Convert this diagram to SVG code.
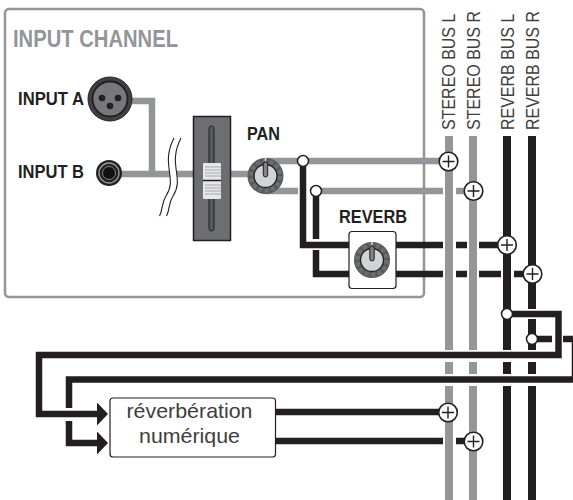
<svg xmlns="http://www.w3.org/2000/svg" width="573" height="500" viewBox="0 0 573 500">
<style>
.bold{font-family:"Liberation Sans",Arial,sans-serif;font-weight:700;fill:#231f20}
.bus{font-family:"Liberation Sans",Arial,sans-serif;font-size:16px;fill:#3f3d3e}
.num{font-family:"Liberation Sans",Arial,sans-serif;font-size:21px;fill:#3f3d3e;text-anchor:middle}
.g{fill:none;stroke:#939598;stroke-width:6.5}
.k{fill:none;stroke:#231f20;stroke-width:6.5}
.bg{fill:none;stroke:#939598;stroke-width:8}
.bk{fill:none;stroke:#231f20;stroke-width:8}
.sum{fill:#fff;stroke:#231f20;stroke-width:1.6}
.plus{fill:none;stroke:#231f20;stroke-width:1.4}
.jn{fill:#fff;stroke:#231f20;stroke-width:1.5}
</style>
<defs>
<g id="knob">
<circle r="18" fill="#58595b"/>
<circle r="14.500" fill="none" stroke="#6d6e71" stroke-width="4.500" stroke-dasharray="4 2.500"/>
<circle r="11.500" fill="#d1d3d4" stroke="#231f20" stroke-width="1.300"/>
<rect x="-2.200" y="-14" width="4.400" height="15" rx="2.200" fill="#808285" stroke="#231f20" stroke-width="1"/>
<rect x="-0.800" y="-18" width="1.600" height="3" fill="#d1d3d4"/>
</g>
<g id="sum">
<circle r="9.300" class="sum"/>
<path d="M-6 0H6M0-6V6" class="plus"/>
</g>
<marker id="arrow" markerUnits="userSpaceOnUse" markerWidth="12" markerHeight="23" refX="0" refY="11.500" orient="auto">
<path d="M0 0L11 11.500L0 23Z" fill="#231f20"/>
</marker>
</defs>
<g id="input-channel">
<rect x="5" y="9" width="419" height="288" rx="4" fill="#fff" stroke="#939598" stroke-width="2.500"/>
<text x="13" y="47" class="bold" font-size="23" style="fill:#939598" textLength="165" lengthAdjust="spacingAndGlyphs">INPUT CHANNEL</text>
</g>
<g id="connectors">
<path class="bg" d="M449 136V350M449 362V374M449 386V500"/>
<path class="bg" d="M473 136V350M473 362V374M473 386V500"/>
<path class="bk" d="M507 136V350M507 362V374M507 386V500"/>
<path class="bk" d="M532 136V309M532 319V350M532 362V374M532 386V500"/>
<path class="g" d="M132 101H152V174"/>
<path class="g" d="M120 174H193M230 174H255"/>
<path class="g" d="M265 161H449"/>
<path class="g" d="M265 191H298M316 191H443M456 191H473"/>
<path class="k" d="M303 161V245H443M456 245H467M479 245H507"/>
<path class="k" d="M316 191V239M316 250V274H443M456 274H467M479 274H501M514 274H532"/>
<path class="k" d="M507 314H558.500V355H39V414H97" marker-end="url(#arrow)"/>
<path class="k" d="M532 339H552M563 339H575V379.500H69V408M69 421V443H97" marker-end="url(#arrow)"/>
<path class="k" d="M275 412H448"/>
<path class="k" d="M275 441H443M456 441H473"/>
</g>
<g id="break">
<path d="M174 139C160 165 178 178 166 196C162 204 162 210 160 215L167 215C170 210 169 204 173 196C185 178 167 165 181 139Z" fill="#fff"/>
<path d="M174 138C160 165 178 178 166 196C161 204 163 210 159.500 216M181 138C167 165 185 178 173 196C168 204 170 210 166.500 216" fill="none" stroke="#231f20" stroke-width="1.100"/>
</g>
<g id="input-a">
<text x="18" y="105" class="bold" font-size="18" textLength="66" lengthAdjust="spacingAndGlyphs">INPUT A</text>
<circle cx="110" cy="99" r="22" fill="#414042" stroke="#231f20" stroke-width="1"/>
<circle cx="110" cy="99" r="17.500" fill="#77787b" stroke="#231f20" stroke-width="1.800"/>
<circle cx="102" cy="98" r="3.300" fill="#231f20"/>
<circle cx="118" cy="98" r="3.300" fill="#231f20"/>
<circle cx="110" cy="106" r="3.300" fill="#231f20"/>
</g>
<g id="input-b">
<text x="18" y="178" class="bold" font-size="18" textLength="66" lengthAdjust="spacingAndGlyphs">INPUT B</text>
<circle cx="109" cy="173" r="13" fill="#231f20"/>
<circle cx="109" cy="173" r="10" fill="none" stroke="#939598" stroke-width="1.400"/>
<circle cx="109" cy="173" r="6.500" fill="#111" stroke="#808285" stroke-width="1"/>
</g>
<g id="fader">
<rect x="193.500" y="116.500" width="37" height="124" fill="#6d6e71" stroke="#231f20" stroke-width="1.500"/>
<rect x="209" y="126" width="5" height="105" rx="2.500" fill="#58595b" stroke="#231f20" stroke-width="1"/>
<rect x="203" y="163" width="18" height="36" rx="1" fill="#e6e7e8"/>
<path d="M205 167H221M205 170H221M205 173H221M205 176H221M205 185H221M205 188H221M205 191H221M205 194H221" stroke="#a7a9ac" stroke-width="1"/>
<path d="M203 180.500H221" stroke="#231f20" stroke-width="1.500"/>
</g>
<g id="pan">
<text x="247" y="140" class="bold" font-size="18" textLength="33" lengthAdjust="spacingAndGlyphs">PAN</text>
<use href="#knob" x="265.500" y="176"/>
</g>
<g id="reverb">
<text x="339" y="223" class="bold" font-size="18" textLength="68" lengthAdjust="spacingAndGlyphs">REVERB</text>
<rect x="349" y="231.500" width="47" height="57" rx="3" fill="#fff" stroke="#231f20" stroke-width="1.200"/>
<use href="#knob" x="372" y="260"/>
</g>
<g id="junctions">
<circle cx="303" cy="161" r="5.500" class="jn"/>
<circle cx="316" cy="191" r="5.500" class="jn"/>
<circle cx="507" cy="314" r="5.500" class="jn"/>
<circle cx="532" cy="339" r="5.500" class="jn"/>
</g>
<g id="summing">
<use href="#sum" x="448.500" y="161.500"/>
<use href="#sum" x="473.500" y="191"/>
<use href="#sum" x="507" y="245"/>
<use href="#sum" x="532.500" y="274"/>
<use href="#sum" x="448" y="412.500"/>
<use href="#sum" x="473.500" y="441.500"/>
</g>
<g id="reverberation">
<rect x="110" y="398" width="165.500" height="59" rx="3" fill="#fff" stroke="#231f20" stroke-width="1.200"/>
<text x="189.500" y="418" class="num" textLength="126" lengthAdjust="spacingAndGlyphs">réverbération</text>
<text x="189.500" y="443" class="num" textLength="101" lengthAdjust="spacingAndGlyphs">numérique</text>
</g>
<g id="bus-labels">
<text transform="translate(455 130) rotate(-90) scale(1 1.120)" class="bus">STEREO BUS L</text>
<text transform="translate(480 130) rotate(-90) scale(1 1.120)" class="bus">STEREO BUS R</text>
<text transform="translate(514 130) rotate(-90) scale(1 1.120)" class="bus">REVERB BUS L</text>
<text transform="translate(539 130) rotate(-90) scale(1 1.120)" class="bus">REVERB BUS R</text>
</g>
</svg>
